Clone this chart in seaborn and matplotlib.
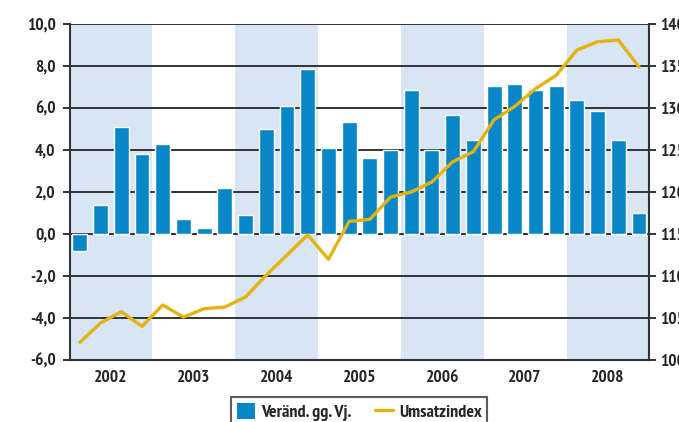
import numpy as np
import pandas as pd
import matplotlib
matplotlib.use("Agg")
import matplotlib.pyplot as plt
from matplotlib.patches import Patch
from matplotlib.lines import Line2D
from matplotlib.ticker import FuncFormatter
import seaborn as sns

years = ["2002", "2003", "2004", "2005", "2006", "2007", "2008"]
quarters = [f"{y}-Q{q}" for y in years for q in range(1, 5)]
change_yoy = [-0.8, 1.4, 5.1, 3.8,
              4.3, 0.7, 0.3, 2.2,
              0.9, 5.0, 6.1, 7.85,
              4.1, 5.35, 3.6, 4.0,
              6.85, 4.0, 5.65, 4.5,
              7.05, 7.15, 6.85, 7.05,
              6.4, 5.85, 4.5, 1.0]
sales_index = [102.1, 104.4, 105.75, 104.0,
               106.55, 105.1, 106.1, 106.3,
               107.5, 110.1, 112.5, 114.9,
               112.0, 116.5, 116.75, 119.4,
               120.0, 121.2, 123.6, 124.8,
               128.6, 130.2, 132.3, 133.9,
               136.9, 137.9, 138.1, 134.9]

bar_color = "#0787c8"
line_color = "#e5b30f"
shade_color = "#d8e5f4"
dark = "#333333"

sns.set_style("white")
plt.rcParams["font.family"] = ["PT Sans Narrow", "DejaVu Sans"]
plt.rcParams["font.weight"] = "bold"

df = pd.DataFrame({"quarter": quarters, "change": change_yoy, "index": sales_index})
df["pos"] = np.arange(len(df))

fig = plt.figure(figsize=(6.79, 4.22), dpi=100)
ax = fig.add_axes([0.1024, 0.147, 0.854, 0.796])

for k in range(0, len(years), 2):
    ax.axvspan(4 * k - 0.5, 4 * k + 3.5, color=shade_color, lw=0, zorder=0)

ax.set_axisbelow(True)
ax.yaxis.grid(True, color=dark, lw=1.4, zorder=1)
sns.barplot(data=df, x="pos", y="change", color=bar_color, width=0.72,
            saturation=1, ax=ax, zorder=2, native_scale=True)
ax.axhline(0, color=dark, lw=1.4, zorder=1.5)

ax.set_xlim(-0.5, 27.5)
ax.set_ylim(-6, 10)
ax.set_yticks(np.arange(-6, 11, 2))
ax.yaxis.set_major_formatter(FuncFormatter(lambda v, p: f"{v:.1f}".replace(".", ",")))
ax.set_xticks([4 * k + 1.5 for k in range(len(years))])
ax.set_xticklabels(years)
ax.tick_params(axis="x", length=0, pad=7, labelsize=12.5)
ax.tick_params(axis="y", length=5, width=1.4, color=dark, direction="out",
               left=True, pad=5, labelsize=12.5)
ax.set_xlabel("")
ax.set_ylabel("")
for s in ["top", "right"]:
    ax.spines[s].set_visible(False)
ax.spines["left"].set_color(dark)
ax.spines["left"].set_linewidth(1.5)
ax.spines["bottom"].set_color(dark)
ax.spines["bottom"].set_linewidth(1.5)

ax2 = ax.twinx()
sns.lineplot(data=df, x="pos", y="index", color=line_color, lw=2.4, ax=ax2, zorder=5)
ax2.set_ylim(100, 140)
ax2.set_yticks(np.arange(100, 141, 5))
ax2.set_xlim(-0.5, 27.5)
ax2.set_ylabel("")
ax2.set_xlabel("")
ax2.tick_params(axis="y", length=5, width=1.4, color=dark, direction="out",
                right=True, pad=3, labelsize=12.5)
for s in ["top", "left", "bottom"]:
    ax2.spines[s].set_visible(False)
ax2.spines["right"].set_color(dark)
ax2.spines["right"].set_linewidth(1.5)

handles = [Patch(facecolor=bar_color, edgecolor="none"),
           Line2D([0], [0], color=line_color, lw=2.4)]
leg = fig.legend(handles, ["Veränd. gg. Vj.", "Umsatzindex"], ncol=2,
                 loc="upper center", bbox_to_anchor=(0.529, 0.059),
                 borderaxespad=0, frameon=True, fancybox=False, edgecolor=dark,
                 fontsize=13, handlelength=1.0, handleheight=1.0,
                 columnspacing=1.3, handletextpad=0.35, borderpad=0.3)
leg.get_frame().set_linewidth(1.5)

fig.savefig("out.png", dpi=100)
